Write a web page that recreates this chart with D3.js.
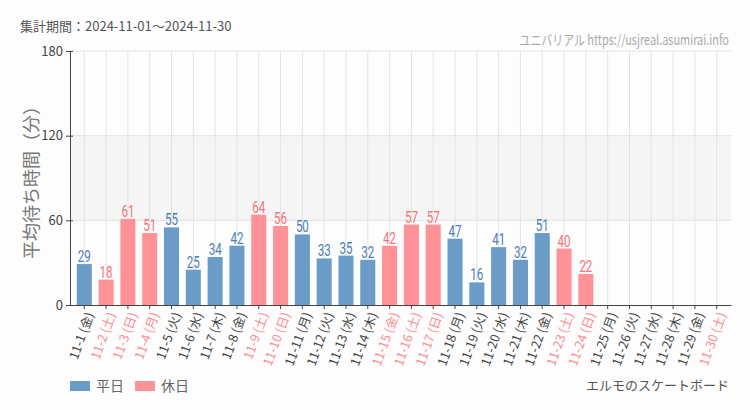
<html>
  <head>
    <meta charset="utf-8">
    <style>
body { margin: 0; background: #fcfdfc; }
text { font-family: "Noto Sans CJK JP", "Noto Sans", sans-serif; }
.grid line { stroke: #e3e3e3; }
.axis path, .axis line { stroke: #444; }
.axis text { fill: #444; font-size: 12px; }
.val { font-family: "Roboto", sans-serif; font-size: 17px; text-anchor: middle; }
    </style>
    <script src="https://d3js.org/d3.v7.min.js"></script>
  </head>
  <body>
    <svg width="750" height="410"></svg>
    <script>

var days = ["11-1", "11-2", "11-3", "11-4", "11-5", "11-6", "11-7", "11-8", "11-9", "11-10",
            "11-11", "11-12", "11-13", "11-14", "11-15", "11-16", "11-17", "11-18", "11-19", "11-20",
            "11-21", "11-22", "11-23", "11-24", "11-25", "11-26", "11-27", "11-28", "11-29", "11-30"];
var weekdays = ["金", "土", "日", "月", "火", "水", "木", "金", "土", "日",
                "月", "火", "水", "木", "金", "土", "日", "月", "火", "水",
                "木", "金", "土", "日", "月", "火", "水", "木", "金", "土"];
// 1 = 休日
var holiday = [0, 1, 1, 1, 0, 0, 0, 0, 1, 1,
               0, 0, 0, 0, 1, 1, 1, 0, 0, 0,
               0, 0, 1, 1, 0, 0, 0, 0, 0, 1];
var waits = [29, 18, 61, 51, 55, 25, 34, 42, 64, 56,
             50, 33, 35, 32, 42, 57, 57, 47, 16, 41,
             32, 51, 40, 22, null, null, null, null, null, null];
var yTicks = [0, 60, 120, 180];

var colors = {bar: ["#6b9bc7", "#ff9296"], val: ["#4a7db5", "#f2737b"], lab: ["#444", "#ff8a90"]};

var svg = d3.select("svg"),
    margin = {top: 51, right: 19, bottom: 105, left: 70},
    width = +svg.attr("width") - margin.left - margin.right,
    height = +svg.attr("height") - margin.top - margin.bottom;

var data = days.map(function(d, i) {
  return {day: d, wd: weekdays[i], hol: holiday[i], value: waits[i]};
});

var x = d3.scaleBand().domain(days).range([0, width]).padding(0.31),
    y = d3.scaleLinear().domain([0, 180]).range([height, 0]);

var g = svg.append("g")
  .attr("transform", "translate(" + margin.left + "," + margin.top + ")");

// shaded band 60-120
g.append("rect")
  .attr("x", 0).attr("width", width)
  .attr("y", y(120)).attr("height", y(60) - y(120))
  .attr("fill", "#f4f5f4");

// grid
g.append("g").attr("class", "grid")
  .selectAll("line").data(days).enter().append("line")
  .attr("x1", function(d) { return x(d) + x.bandwidth() / 2; })
  .attr("x2", function(d) { return x(d) + x.bandwidth() / 2; })
  .attr("y1", 0).attr("y2", height);

g.append("g").attr("class", "grid")
  .selectAll("line").data(yTicks.slice(1)).enter().append("line")
  .attr("x1", 0).attr("x2", width)
  .attr("y1", function(d) { return y(d); })
  .attr("y2", function(d) { return y(d); });

// bars
var shown = data.filter(function(d) { return d.value != null; });

g.selectAll(".bar")
  .data(shown)
  .enter().append("rect")
  .attr("class", "bar")
  .attr("x", function(d) { return x(d.day); })
  .attr("y", function(d) { return y(d.value); })
  .attr("width", x.bandwidth())
  .attr("height", function(d) { return height - y(d.value); })
  .attr("fill", function(d) { return colors.bar[d.hol]; });

// condensed value labels
g.selectAll(".val")
  .data(shown)
  .enter().append("text")
  .attr("class", "val")
  .attr("transform", function(d) {
    return "translate(" + (x(d.day) + x.bandwidth() / 2) + "," + (y(d.value) - 2) + ") scale(0.68,1)";
  })
  .style("fill", function(d) { return colors.val[d.hol]; })
  .text(function(d) { return d.value; });

// axes
g.append("g")
  .attr("class", "axis")
  .call(d3.axisLeft(y).tickValues(yTicks).tickSize(4).tickSizeOuter(0))
  .call(function(a) { a.selectAll(".tick line").attr("x2", -4).attr("x1", 3); })
  .call(function(a) { a.selectAll(".tick text").style("font-size", "13px"); });

var xAxis = g.append("g")
  .attr("class", "axis")
  .attr("transform", "translate(0," + height + ")")
  .call(d3.axisBottom(x).tickSize(4).tickSizeOuter(0).tickFormat(function(d, i) { return d + " (" + weekdays[i] + ")"; }));

xAxis.selectAll(".tick text")
  .style("font-size", "12.5px")
  .attr("text-anchor", "end")
  .attr("dx", "-0.2em")
  .attr("dy", "0.35em")
  .attr("transform", "translate(0,3) rotate(-70)")
  .style("fill", function(d, i) { return colors.lab[holiday[i]]; });

// title
svg.append("text")
  .attr("x", 20).attr("y", 31)
  .attr("font-size", "13px").attr("fill", "#555")
  .text("集計期間：2024-11-01～2024-11-30");

svg.append("text")
  .attr("transform", "translate(729,45) scale(0.78,1)")
  .attr("text-anchor", "end")
  .attr("font-size", "14px").attr("fill", "#aaa")
  .text("ユニバリアル  https://usjreal.asumirai.info");

// y label
svg.append("text")
  .attr("transform", "translate(38," + (margin.top + height / 2) + ") rotate(-90)")
  .attr("text-anchor", "middle")
  .attr("font-size", "18px").attr("fill", "#777")
  .text("平均待ち時間（分）");

// legend
var legend = [["平日", 0], ["休日", 1]];
var lg = svg.selectAll(".legend").data(legend).enter().append("g")
  .attr("transform", function(d, i) { return "translate(" + (70 + i * 65) + ",381)"; });
lg.append("rect").attr("width", 20).attr("height", 10)
  .attr("fill", function(d) { return colors.bar[d[1]]; });
lg.append("text").attr("x", 26).attr("y", 10)
  .attr("font-size", "14px").attr("fill", "#666")
  .text(function(d) { return d[0]; });

svg.append("text")
  .attr("x", 729).attr("y", 390)
  .attr("text-anchor", "end")
  .attr("font-size", "13px").attr("fill", "#555")
  .text("エルモのスケートボード");

    </script>
  </body>
</html>
